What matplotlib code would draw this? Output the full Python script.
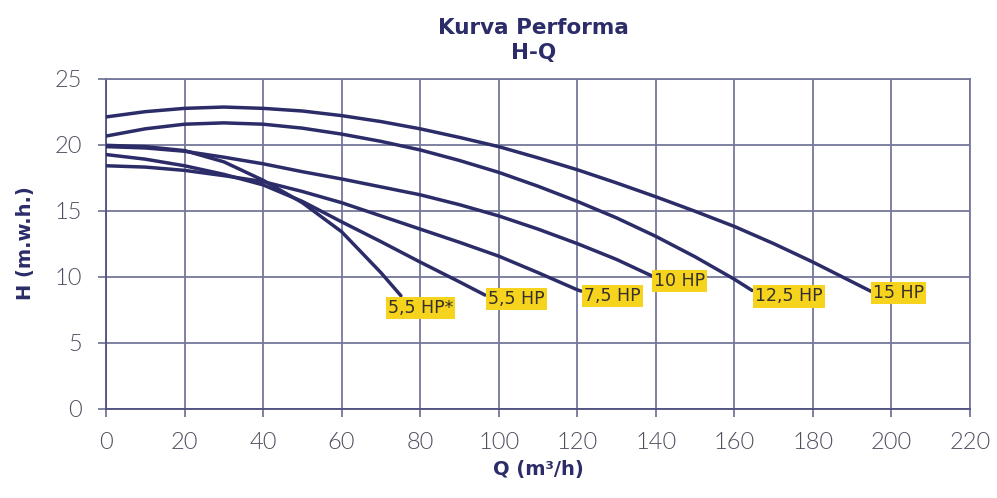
import matplotlib
matplotlib.use("Agg")
import matplotlib.pyplot as plt

NAVY = "#2b2c68"
GRID = "#75779b"
TICK_TEXT = "#4e4f60"
TAG_BG = "#f6d31c"
TAG_TEXT = "#35302b"

# pump curves: flow Q (m3/h) vs head H (m.w.h.)
q_55s = [0, 10, 20, 30, 40, 50, 60, 70, 75.1]
h_55s = [19.95, 19.85, 19.55, 18.7, 17.3, 15.6, 13.4, 10.3, 8.55]

q_55 = [0, 10, 20, 30, 40, 50, 60, 70, 80, 90, 96.5]
h_55 = [19.25, 18.9, 18.4, 17.75, 16.95, 15.7, 14.15, 12.65, 11.1, 9.6, 8.6]

q_75 = [0, 10, 20, 30, 40, 50, 60, 70, 80, 90, 100, 110, 120, 121]
h_75 = [18.4, 18.3, 18.05, 17.65, 17.2, 16.45, 15.6, 14.6, 13.6, 12.6, 11.55, 10.3, 9.0, 8.9]

q_10 = [0, 10, 20, 30, 40, 50, 60, 70, 80, 90, 100, 110, 120, 130, 139]
h_10 = [19.85, 19.75, 19.5, 19.05, 18.55, 17.95, 17.4, 16.8, 16.2, 15.45, 14.6, 13.6, 12.5, 11.3, 10.05]

q_125 = [0, 10, 20, 30, 40, 50, 60, 70, 80, 90, 100, 110, 120, 130, 140, 150, 160, 164.5]
h_125 = [20.65, 21.2, 21.55, 21.65, 21.55, 21.25, 20.8, 20.25, 19.6, 18.8, 17.9, 16.85,
         15.7, 14.45, 13.05, 11.5, 9.8, 8.95]

q_15 = [0, 10, 20, 30, 40, 50, 60, 70, 80, 90, 100, 110, 120, 130, 140, 150, 160, 170, 180, 190, 195]
h_15 = [22.1, 22.5, 22.75, 22.85, 22.75, 22.55, 22.2, 21.75, 21.2, 20.55, 19.85, 19.0, 18.1,
        17.1, 16.05, 14.95, 13.8, 12.5, 11.1, 9.6, 8.85]

series = [(q_55s, h_55s), (q_55, h_55), (q_75, h_75), (q_10, h_10), (q_125, h_125), (q_15, h_15)]
tags = ["5,5 HP*", "5,5 HP", "7,5 HP", "10 HP", "12,5 HP", "15 HP"]
# where each tag sits relative to the curve end, in pixels
tag_offsets = [(-13, -12), (3, -4), (3, -5), (2, -5), (3, -6), (1, -1)]

x_ticks = list(range(0, 221, 20))
y_ticks = list(range(0, 26, 5))

fig = plt.figure(figsize=(9.97, 4.98), dpi=100)
ax = fig.add_axes([0.1063, 0.1797, 0.8666, 0.6623])

for (q, h), tag, off in zip(series, tags, tag_offsets):
    ax.plot(q, h, color=NAVY, lw=2.5, solid_capstyle="round", solid_joinstyle="round", zorder=3)
    ax.annotate(tag, xy=(q[-1], h[-1]), xytext=off, textcoords="offset pixels",
                ha="left", va="center", fontsize=12.5, family="DejaVu Sans", color=TAG_TEXT,
                bbox=dict(boxstyle="square,pad=0.12", fc=TAG_BG, ec="none"), zorder=4)

ax.set_xlim(0, 220)
ax.set_ylim(0, 25)
ax.set_xticks(x_ticks)
ax.set_yticks(y_ticks)
ax.grid(True, color=GRID, lw=1.3, zorder=1)
for s in ax.spines.values():
    s.set_color(GRID)
    s.set_linewidth(1.3)
ax.spines["left"].set_color("#4f5180")
ax.spines["bottom"].set_color("#4f5180")
ax.tick_params(axis="both", direction="out", length=6, width=1.3, color=GRID,
               labelsize=17, labelcolor=TICK_TEXT, pad=11)
for lbl in ax.get_xticklabels() + ax.get_yticklabels():
    lbl.set_family("Lato")
    lbl.set_fontweight(300)

ax.set_xlabel("Q (m³/h)", fontsize=14, fontweight="bold", color=NAVY, family="DejaVu Sans", labelpad=5)
ax.set_ylabel("H (m.w.h.)", fontsize=14, fontweight="bold", color=NAVY, family="DejaVu Sans", labelpad=14)

fig.text(0.535, 0.943, "Kurva Performa", ha="center", va="center", fontsize=15.5,
         fontweight="bold", color=NAVY, family="DejaVu Sans")
fig.text(0.535, 0.893, "H-Q", ha="center", va="center", fontsize=15.5,
         fontweight="bold", color=NAVY, family="DejaVu Sans")

fig.savefig("out.png", dpi=100, facecolor="white")
